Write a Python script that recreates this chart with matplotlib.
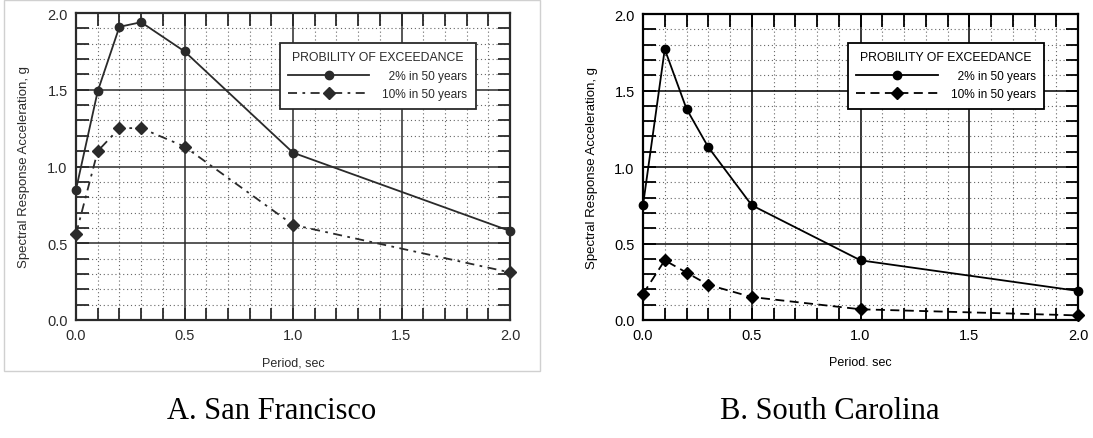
import matplotlib
matplotlib.use("Agg")
import matplotlib.pyplot as plt
from matplotlib.ticker import MultipleLocator, FormatStrFormatter
from matplotlib.patches import Rectangle

plt.rcParams['font.family'] = ['Liberation Sans', 'DejaVu Sans']

periods = [0.0, 0.1, 0.2, 0.3, 0.5, 1.0, 2.0]
sf_2pct = [0.85, 1.49, 1.91, 1.94, 1.75, 1.09, 0.58]
sf_10pct = [0.56, 1.10, 1.25, 1.25, 1.13, 0.62, 0.31]
sc_2pct = [0.75, 1.77, 1.38, 1.13, 0.75, 0.39, 0.19]
sc_10pct = [0.17, 0.39, 0.31, 0.23, 0.15, 0.07, 0.03]

legend_title = "PROBILITY OF EXCEEDANCE"
label_2 = "\u20072% in 50 years"
label_10 = "10% in 50 years"
xlabel_left = "Period, sec"
xlabel_right = "Period. sec"
ylabel = "Spectral Response Acceleration, g"
captions = ["A. San Francisco", "B. South Carolina"]

fig = plt.figure(figsize=(10.93, 4.39), dpi=100)

def style_axes(ax, ink, xlabel):
    ax.set_xlim(0, 2)
    ax.set_ylim(0, 2)
    ax.xaxis.set_major_locator(MultipleLocator(0.5))
    ax.yaxis.set_major_locator(MultipleLocator(0.5))
    ax.xaxis.set_minor_locator(MultipleLocator(0.1))
    ax.yaxis.set_minor_locator(MultipleLocator(0.1))
    ax.xaxis.set_major_formatter(FormatStrFormatter('%.1f'))
    ax.yaxis.set_major_formatter(FormatStrFormatter('%.1f'))
    ax.grid(which='minor', linestyle=(0, (1, 2.5)), color='#666666', linewidth=0.8)
    ax.grid(which='major', linestyle='-', color=ink, linewidth=1.1)
    ax.tick_params(which='both', direction='in', top=True, right=True,
                   length=9, width=1.3, color=ink, labelsize=10.5,
                   labelcolor=ink, pad=6)
    for s in ax.spines.values():
        s.set_linewidth(1.6)
        s.set_color(ink)
    ax.set_axisbelow(True)
    ax.set_xlabel(xlabel, fontsize=9, color=ink, labelpad=10)
    ax.set_ylabel(ylabel, fontsize=9.5, color=ink, labelpad=12)

axes_pos = [[76/1093, 1-321/439, 434/1093, 307/439],
            [643/1093, 1-321/439, 435/1093, 306/439]]
legend_anchor = [(0.935, 0.922), (0.936, 0.925)]
caption_x = [272/1093, 830/1093]
datasets = [(sf_2pct, sf_10pct, '#2a2a2a', xlabel_left, (0, (5, 3, 1.5, 3))),
            (sc_2pct, sc_10pct, '#000000', xlabel_right, (0, (5, 3)))]

for i, (pos, (d2, d10, ink, xl, ls10)) in enumerate(zip(axes_pos, datasets)):
    ax = fig.add_axes(pos)
    style_axes(ax, ink, xl)
    ax.plot(periods, d2, color=ink, linestyle='-', linewidth=1.3, marker='o',
            markersize=6, clip_on=False, zorder=5, label=label_2)
    ax.plot(periods, d10, color=ink, linestyle=ls10, linewidth=1.3, marker='D',
            markersize=6, clip_on=False, zorder=5, label=label_10)
    leg = ax.legend(title=legend_title, loc='upper right',
                    bbox_to_anchor=legend_anchor[i], fontsize=8.6,
                    title_fontsize=8.8, handlelength=6.8, handletextpad=1.1,
                    fancybox=False, framealpha=1, edgecolor=ink,
                    borderpad=0.7, labelspacing=0.55)
    leg.get_frame().set_linewidth(1.3)
    leg.get_title().set_color(ink)
    for t in leg.get_texts():
        t.set_color(ink)
    fig.text(caption_x[i], 0.062, captions[i],
             ha='center', va='center', fontsize=22,
             family=['Liberation Serif', 'DejaVu Serif'])

fig.patches.append(Rectangle((4/1093, 1-372/439), 536/1093, 372/439 - 1/439,
                             transform=fig.transFigure, fill=False,
                             edgecolor='#d0d0d0', linewidth=1))

fig.savefig('out.png', dpi=100)
